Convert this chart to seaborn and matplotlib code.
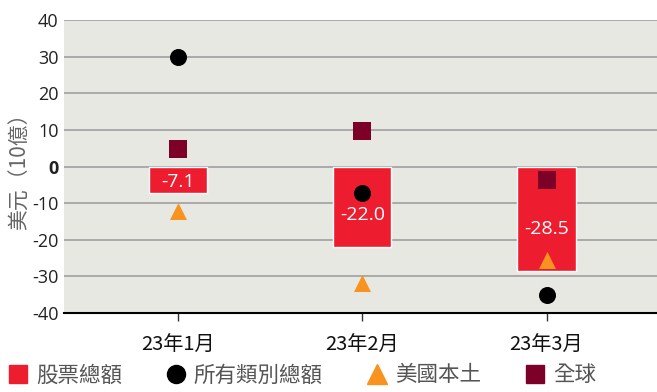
import matplotlib
matplotlib.use("Agg")
import matplotlib.pyplot as plt
import seaborn as sns
import pandas as pd
from matplotlib.lines import Line2D

months = ["23年1月", "23年2月", "23年3月"]
equity_total = [-7.1, -22.0, -28.5]
all_total = [30.0, -7.2, -35.2]
us_domestic = [-12.2, -31.8, -25.4]
global_vals = [4.9, 9.6, -3.7]
yticks = [40, 30, 20, 10, 0, -10, -20, -30, -40]
legend_labels = ["股票總額", "所有類別總額", "美國本土", "全球"]

c_red = "#ED1C2E"
c_black = "#000000"
c_orange = "#F7931E"
c_maroon = "#7D0029"

sns.set_theme(style="white")
plt.rcParams['font.family'] = ['Open Sans', 'Noto Sans CJK TC', 'DejaVu Sans']
CJK = ['Noto Sans CJK TC', 'DejaVu Sans']

fig = plt.figure(figsize=(6.57, 3.92), dpi=100)
ax = fig.add_axes([64/657, 1-313/392, (657-64)/657, (313-20)/392])
ax.set_facecolor("#E8E8E3")

df = pd.DataFrame({"month": months, "equity": equity_total, "all": all_total,
                   "us": us_domestic, "glob": global_vals})

sns.barplot(data=df, x="month", y="equity", color=c_red, width=0.315,
            saturation=1, ax=ax, zorder=2)
sns.scatterplot(data=df, x="month", y="all", color=c_black, marker="o", s=150,
                linewidth=0, ax=ax, zorder=3)
sns.scatterplot(data=df, x="month", y="us", color=c_orange, marker="^", s=150,
                linewidth=0, ax=ax, zorder=3)
sns.scatterplot(data=df, x="month", y="glob", color=c_maroon, marker="s", s=150,
                linewidth=0, ax=ax, zorder=3)

for i, v in enumerate(equity_total):
    ax.text(i, v * 0.6, f"{v:.1f}", color="white", ha="center", va="center",
            fontsize=14, zorder=4)

ax.set_ylim(-40, 40)
ax.set_xlim(-0.62, 2.6)
ax.set_yticks(yticks)
ax.set_yticklabels([str(t) for t in yticks], fontsize=13)
for lab in ax.get_yticklabels():
    if lab.get_text() == "0":
        lab.set_fontweight("bold")
ax.set_xticks(range(len(months)))
ax.set_xticklabels(months, fontsize=14.5, family=CJK, color="#111111")
ax.grid(axis="y", color="#A5A5A5", linewidth=1.3, zorder=0)
ax.set_axisbelow(True)
for s in ["top", "right", "left"]:
    ax.spines[s].set_visible(False)
ax.spines["bottom"].set_color("black")
ax.spines["bottom"].set_linewidth(1.5)
ax.tick_params(axis="y", length=0, pad=4, labelcolor="#222222")
ax.tick_params(axis="x", length=6, width=1, color="#333333", pad=10, bottom=True)
ax.set_xlabel("")
ax.set_ylabel("美元（10億）", fontsize=15, color="#666666", labelpad=1, family=CJK)

handles = [
    Line2D([], [], marker="s", color=c_red, linestyle="", markersize=13),
    Line2D([], [], marker="o", color=c_black, linestyle="", markersize=13),
    Line2D([], [], marker="^", color=c_orange, linestyle="", markersize=14),
    Line2D([], [], marker="s", color=c_maroon, linestyle="", markersize=13),
]
fig.legend(handles, legend_labels, loc="lower left", bbox_to_anchor=(-0.016, -0.035),
           ncol=4, frameon=False, prop={"family": CJK, "size": 15.5},
           handlelength=0.85, handletextpad=0.4, columnspacing=2.1,
           labelcolor="#555555")

fig.savefig("out.png", dpi=100)
